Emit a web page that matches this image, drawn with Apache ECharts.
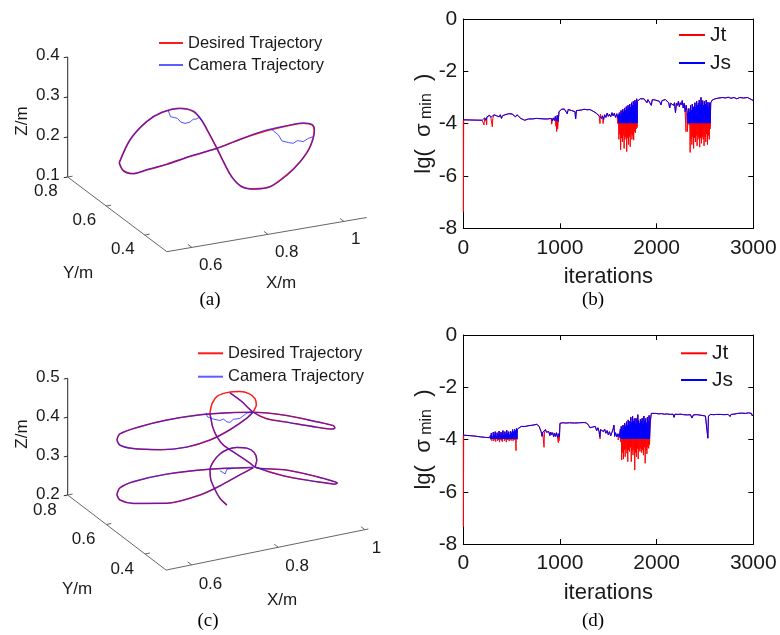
<!DOCTYPE html>
<html><head><meta charset="utf-8">
<script src="https://cdn.jsdelivr.net/npm/echarts/dist/echarts.min.js"></script>
<style>html,body{margin:0;padding:0;background:#fff}#c{width:780px;height:635px}</style>
</head><body><div id="c"></div>
<script>
const SANS = '"Liberation Sans", Arial, sans-serif';
const SERIF = '"Liberation Serif", "Times New Roman", serif';
const TXT = '#1a1a1a';

// ---------- (a) 3D trajectory data [X, Y, Z] in metres ----------
const aDesired = [
[0.543,0.55,0.225],[0.571,0.55,0.277],[0.615,0.55,0.316],[0.655,0.55,0.332],[0.703,0.55,0.335],
[0.738,0.55,0.321],[0.760,0.55,0.296],[0.777,0.55,0.264],[0.800,0.55,0.219],[0.817,0.55,0.183],
[0.839,0.55,0.142],[0.865,0.55,0.113],[0.896,0.55,0.102],[0.940,0.55,0.100],[0.984,0.55,0.123],
[1.019,0.55,0.150],[1.045,0.55,0.183],[1.056,0.55,0.223],[1.050,0.55,0.237],[1.027,0.55,0.245],
[0.984,0.55,0.245],[0.922,0.55,0.241],[0.861,0.55,0.232],[0.800,0.55,0.219],[0.729,0.55,0.210],
[0.668,0.55,0.201],[0.615,0.55,0.195],[0.580,0.55,0.192],[0.554,0.55,0.203],[0.543,0.55,0.225]];
const aCamera = [
[0.543,0.55,0.224],[0.572,0.55,0.278],[0.614,0.55,0.315],[0.656,0.55,0.333],[0.703,0.55,0.334],
[0.739,0.55,0.322],[0.760,0.55,0.295],[0.778,0.55,0.263],[0.800,0.55,0.219],[0.818,0.55,0.182],
[0.839,0.55,0.141],[0.866,0.55,0.112],[0.897,0.55,0.101],[0.940,0.55,0.101],[0.985,0.55,0.122],
[1.020,0.55,0.151],[1.046,0.55,0.184],[1.057,0.55,0.224],[1.051,0.55,0.238],[1.027,0.55,0.246],
[0.985,0.55,0.246],[0.923,0.55,0.243],[0.861,0.55,0.231],[0.800,0.55,0.219],[0.729,0.55,0.211],
[0.668,0.55,0.200],[0.615,0.55,0.196],[0.580,0.55,0.191],[0.554,0.55,0.203],[0.543,0.55,0.224]];
const aCamDev1 = [[0.672,0.55,0.334],[0.678,0.55,0.318],[0.696,0.55,0.311],[0.705,0.55,0.300],[0.716,0.55,0.295],
[0.729,0.55,0.296],[0.738,0.55,0.302],[0.745,0.55,0.301],[0.754,0.55,0.304],[0.760,0.55,0.296]];
const aCamDev2 = [[0.944,0.55,0.243],[0.962,0.55,0.226],[0.971,0.55,0.210],[0.988,0.55,0.203],[1.001,0.55,0.199],
[1.012,0.55,0.204],[1.027,0.55,0.199],[1.041,0.55,0.205],[1.052,0.55,0.207]];
const aXTicks = [0.6, 0.8, 1], aYTicks = [0.4, 0.6, 0.8], aZTicks = [0.1, 0.2, 0.3, 0.4];

// ---------- (c) 3D trajectory data ----------
const cUpperEdge = [[0.543,0.55,0.436],[0.550,0.55,0.450],[0.596,0.55,0.458],[0.658,0.55,0.461],[0.735,0.55,0.457],
[0.804,0.55,0.447],[0.857,0.55,0.436],[0.935,0.55,0.410],[1.005,0.55,0.378],[1.042,0.55,0.360],[1.047,0.55,0.353]];
const cUpperLobeLower = [[0.543,0.55,0.436],[0.550,0.55,0.421],[0.581,0.55,0.405],[0.643,0.55,0.388],[0.704,0.55,0.381],
[0.758,0.55,0.387],[0.804,0.55,0.403],[0.843,0.55,0.424],[0.857,0.55,0.436]];
const cDiagonal = [[0.804,0.55,0.498],[0.830,0.55,0.471],[0.857,0.55,0.437],[0.889,0.55,0.412],[0.935,0.55,0.393],
[1.005,0.55,0.364],[1.042,0.55,0.351],[1.047,0.55,0.353]];
const cTopLoop = [[0.758,0.55,0.456],[0.763,0.55,0.480],[0.775,0.55,0.496],[0.800,0.55,0.500],[0.827,0.55,0.496],
[0.848,0.55,0.486],[0.862,0.55,0.470],[0.865,0.55,0.453],[0.860,0.55,0.441],[0.857,0.55,0.437]];
const cDescent = [[0.758,0.55,0.454],[0.760,0.55,0.443],[0.764,0.55,0.420],[0.774,0.55,0.392],[0.789,0.55,0.367],
[0.808,0.55,0.348],[0.831,0.55,0.326],[0.851,0.55,0.306],[0.862,0.55,0.294],[0.927,0.55,0.257],[1.005,0.55,0.224],[1.047,0.55,0.208]];
const cMiddleLoop = [[0.797,0.55,0.211],[0.781,0.55,0.232],[0.770,0.55,0.256],[0.760,0.55,0.284],[0.758,0.55,0.310],
[0.766,0.55,0.330],[0.781,0.55,0.346],[0.800,0.55,0.354],[0.820,0.55,0.354],[0.843,0.55,0.347],[0.860,0.55,0.332],
[0.866,0.55,0.311],[0.862,0.55,0.294],[0.935,0.55,0.270],[1.005,0.55,0.237],[1.047,0.55,0.214],[1.052,0.55,0.210],[1.047,0.55,0.208]];
const cLowerLobeUpper = [[0.543,0.55,0.295],[0.550,0.55,0.311],[0.581,0.55,0.320],[0.658,0.55,0.322],[0.758,0.55,0.312],[0.858,0.55,0.294]];
const cLowerLobeLower = [[0.543,0.55,0.295],[0.550,0.55,0.280],[0.581,0.55,0.264],[0.658,0.55,0.247],[0.735,0.55,0.251],
[0.781,0.55,0.264],[0.827,0.55,0.282],[0.858,0.55,0.293]];
const cCamDev1 = [[0.749,0.55,0.459],[0.752,0.55,0.448],[0.766,0.55,0.439],[0.781,0.55,0.432],[0.789,0.55,0.434],
[0.797,0.55,0.425],[0.804,0.55,0.422],[0.812,0.55,0.428],[0.827,0.55,0.427],[0.843,0.55,0.437],[0.854,0.55,0.438]];
const cCamDev2 = [[0.781,0.55,0.303],[0.793,0.55,0.292],[0.797,0.55,0.303],[0.812,0.55,0.302]];
const cXTicks = [0.6, 0.8, 1], cYTicks = [0.4, 0.6, 0.8], cZTicks = [0.2, 0.3, 0.4, 0.5];

// ---------- (b) lg(sigma_min) vs iterations ----------
const bBase = [
[0,-3.85],[195,-3.87],[205,-3.82],[212,-3.92],[222,-3.78],[235,-3.88],[245,-3.74],[260,-3.8],[272,-3.68],[285,-3.76],[295,-3.7],[305,-3.8],
[318,-3.66],[330,-3.62],[345,-3.7],[358,-3.63],[370,-3.74],[382,-3.66],[395,-3.8],[405,-3.7],[418,-3.76],[432,-3.66],[450,-3.7],[470,-3.62],
[490,-3.6],[505,-3.63],[520,-3.7],[540,-3.74],[555,-3.66],[575,-3.72],[595,-3.8],[615,-3.82],[635,-3.87],[655,-3.84],[675,-3.82],[695,-3.86],
[715,-3.82],[735,-3.84],[755,-3.8],[775,-3.83],[795,-3.81],[815,-3.84],[835,-3.82],[855,-3.8],[875,-3.82],[895,-3.86],[910,-3.8],[920,-3.9],
[930,-3.78],[942,-3.88],[952,-3.72],[962,-3.9],[972,-3.68],[982,-3.92],[990,-3.55],[1000,-3.48],[1015,-3.45],[1030,-3.5],[1045,-3.44],
[1060,-3.48],[1075,-3.62],[1085,-3.46],[1100,-3.45],[1120,-3.5],[1140,-3.47],[1155,-3.54],[1162,-3.82],[1170,-3.5],[1190,-3.46],[1220,-3.48],
[1250,-3.45],[1280,-3.47],[1310,-3.46],[1340,-3.52],[1360,-3.5],[1375,-3.6],[1390,-3.58],[1405,-3.7],[1418,-3.64],[1430,-3.8],[1440,-3.7],
[1452,-3.84],[1462,-3.66],[1475,-3.76],[1488,-3.6],[1500,-3.72],[1512,-3.64],[1525,-3.74],[1538,-3.58],[1550,-3.7],[1562,-3.6],[1575,-3.76],
[1588,-3.62],[1600,-3.8],
[1800,-3.15],[1815,-3.1],[1830,-3.05],[1850,-3.07],[1870,-3.05],[1890,-3.1],[1900,-3.2],[1910,-3.08],[1930,-3.06],[1945,-3.3],[1955,-3.08],
[1970,-3.12],[1990,-3.1],[2010,-3.08],[2030,-3.15],[2045,-3.28],[2055,-3.12],[2070,-3.1],[2090,-3.08],[2110,-3.12],[2125,-3.2],[2135,-3.4],
[2145,-3.22],[2160,-3.15],[2175,-3.3],[2185,-3.2],[2195,-3.58],[2205,-3.22],[2215,-3.3],[2225,-3.15],[2235,-3.35],[2245,-3.2],[2255,-3.28],
[2265,-3.12],[2275,-3.4],[2285,-3.22],[2295,-3.55],[2305,-3.3],
[2560,-3.2],[2575,-3.1],[2590,-3.15],[2605,-3.05],[2625,-3.1],[2645,-3.02],[2665,-3.05],[2685,-3.0],[2710,-3.02],[2740,-2.99],[2770,-3.03],
[2800,-3.0],[2830,-3.05],[2860,-3.0],[2880,-2.97],[2900,-3.02],[2920,-3.05],[2940,-3.0],[2960,-3.06],[2980,-3.08],[3000,-3.12]];
const bJtDips = [[1,-7.37],[4,-3.86],[214,-4.05],[242,-4.05],[300,-4.12],[914,-4.02],[958,-4.1],[966,-4.3],[976,-4.2],[1414,-4.0],[1446,-4.0],[1598,-4.0],[2304,-4.31]];
const bBand1Start = 1605, bBand1Step = 9;
const bBand1Top = [-3.66,-3.58,-3.7,-3.5,-3.62,-3.45,-3.55,-3.4,-3.5,-3.35,-3.46,-3.3,-3.42,-3.25,-3.38,-3.2,-3.3,-3.15,-3.28,-3.1,-3.2,-3.05];
const bBand1Low = [-4.6,-4.4,-5.0,-4.55,-4.7,-4.45,-4.95,-4.6,-4.5,-5.07,-4.55,-4.8,-4.5,-4.88,-4.4,-4.6,-4.45,-4.63,-4.3,-4.35,-4.2,-4.15];
const bBand2Start = 2315, bBand2Step = 9;
const bBand2Top = [-3.5,-3.6,-3.42,-3.55,-3.3,-3.48,-3.25,-3.4,-3.35,-3.2,-3.38,-3.15,-3.3,-3.22,-3.1,-3.28,-3.0,-3.2,-3.12,-3.3,-3.15,-3.25,-3.1,-3.3,-3.18,-3.35,-3.2];
const bBand2Low = [-4.3,-4.0,-4.05,-5.1,-4.6,-4.8,-4.5,-4.95,-4.55,-4.7,-4.45,-4.85,-4.6,-4.5,-4.9,-4.55,-4.75,-4.5,-4.6,-4.85,-4.5,-4.7,-4.4,-4.8,-4.45,-4.6,-4.2];
const bJsFloor = -3.98;

// ---------- (d) ----------
const dBase = [
[0,-3.83],[60,-3.85],[120,-3.87],[180,-3.9],[230,-3.92],[272,-3.93],
[560,-3.6],[580,-3.55],[600,-3.5],[620,-3.52],[640,-3.5],[660,-3.48],[680,-3.47],[700,-3.46],[720,-3.45],[740,-3.44],[760,-3.42],[775,-3.44],
[785,-3.5],[795,-3.6],[805,-3.7],[815,-3.88],[822,-3.72],[830,-3.65],[840,-3.7],[850,-3.62],[860,-3.72],[875,-3.78],[885,-3.7],[895,-3.85],
[905,-3.72],[915,-3.82],[925,-3.74],[935,-3.9],[945,-3.76],[955,-3.88],[965,-3.74],[975,-3.92],[985,-3.78],[995,-3.9],[1000,-3.38],
[1030,-3.36],[1060,-3.37],[1100,-3.36],[1150,-3.37],[1200,-3.36],[1250,-3.35],[1276,-3.37],[1295,-3.45],[1310,-3.55],[1320,-3.48],
[1330,-3.62],[1340,-3.52],[1350,-3.58],[1365,-3.5],[1380,-3.66],[1392,-3.55],[1405,-3.7],[1412,-3.9],[1420,-3.62],[1435,-3.58],[1450,-3.7],
[1462,-3.6],[1475,-3.76],[1488,-3.66],[1500,-3.82],[1512,-3.7],[1525,-3.86],[1538,-3.72],[1550,-3.6],[1558,-3.45],[1566,-3.88],[1575,-3.74],
[1588,-3.9],[1600,-3.78],[1612,-3.92],
[1935,-3.3],[1945,-3.0],[1960,-2.99],[1990,-3.0],[2020,-3.02],[2050,-3.01],[2080,-3.03],[2110,-3.02],[2140,-3.04],[2170,-3.03],[2180,-3.15],
[2190,-3.03],[2220,-3.04],[2250,-3.03],[2280,-3.05],[2300,-3.1],[2320,-3.06],[2350,-3.05],[2365,-3.18],[2380,-3.06],[2410,-3.05],[2440,-3.06],
[2470,-3.08],[2490,-3.14],[2505,-3.1],[2520,-3.07],[2530,-3.95],[2536,-3.1],[2560,-3.04],[2590,-3.05],[2620,-3.04],[2640,-3.1],[2660,-3.04],
[2700,-3.05],[2740,-3.04],[2760,-3.12],[2770,-3.04],[2800,-3.03],[2840,-3.0],[2880,-2.99],[2920,-3.0],[2950,-2.98],[2980,-3.0],[2990,-3.1],[3000,-3.04]];
const dJtDips = [[1,-7.34],[4,-3.84],[835,-4.3],[983,-4.12],[990,-4.05],[1415,-3.98],[1602,-4.02]];
const dBand1Start = 280, dBand1Step = 10;
const dBand1Top = [-3.85,-3.75,-3.9,-3.72,-3.82,-3.7,-3.88,-3.74,-3.8,-3.68,-3.85,-3.72,-3.78,-3.66,-3.84,-3.7,-3.8,-3.65,-3.76,-3.7,-3.82,-3.68,-3.74,-3.62,-3.7,-3.6,-3.66,-3.58];
const dBand1Low = [-4.0,-4.05,-3.98,-4.06,-4.0,-4.08,-3.98,-4.05,-4.02,-4.1,-4.0,-4.04,-4.08,-3.98,-4.05,-4.0,-4.1,-4.02,-4.0,-4.06,-4.0,-4.04,-3.98,-4.05,-4.02,-4.0,-4.43,-4.0];
const dBand2Start = 1625, dBand2Step = 9;
const dBand2Top = [-3.6,-3.5,-3.65,-3.45,-3.55,-3.38,-3.5,-3.32,-3.45,-3.25,-3.4,-3.3,-3.15,-3.35,-3.1,-3.3,-3.2,-3.4,-3.19,-3.3,-3.05,-3.28,-3.38,-3.22,-3.3,-3.19,-3.4,-3.1,-3.28,-3.2,-3.36,-3.15,-3.3,-3.08];
const dBand2Low = [-4.1,-4.78,-4.5,-4.75,-4.4,-4.66,-4.35,-4.53,-4.85,-4.4,-4.46,-4.3,-4.85,-4.45,-4.6,-4.4,-5.17,-4.5,-4.66,-4.35,-4.75,-4.4,-4.46,-4.34,-4.5,-4.4,-4.6,-4.3,-4.91,-4.4,-4.55,-4.3,-4.34,-4.2];
const dJsFloor = -3.98;

// ---------- helpers ----------
function bandPairs(start, step, tops, lows, floor) {
  const js = [], jt = [];
  const n = Math.min(tops.length, lows.length);
  for (let i = 0; i < n; i++) {
    const t = start + i * step;
    js.push([t, tops[i]], [t + step / 2, floor]);
    jt.push([t, tops[i]], [t + step / 2, lows[i]]);
  }
  return {js, jt};
}
const byX = (a, b) => a[0] - b[0];
const bB1 = bandPairs(bBand1Start, bBand1Step, bBand1Top, bBand1Low, bJsFloor);
const bB2 = bandPairs(bBand2Start, bBand2Step, bBand2Top, bBand2Low, bJsFloor);
const bJs = bBase.concat(bB1.js, bB2.js).sort(byX);
const bJt = bBase.concat(bJtDips, bB1.jt, bB2.jt).sort(byX);
const dB1 = bandPairs(dBand1Start, dBand1Step, dBand1Top, dBand1Low, dJsFloor);
const dB2 = bandPairs(dBand2Start, dBand2Step, dBand2Top, dBand2Low, dJsFloor);
const dJs = dBase.concat(dB1.js, dB2.js).sort(byX);
const dJt = dBase.concat(dJtDips, dB1.jt, dB2.jt).sort(byX);

// 3D view layouts (pixel anchor + axis direction vectors)
const viewA = {o:[67.7,177], ex:[380,-65], ey:[-192.5,-145], ez:[0,-400], x0:0.534, x1:1.06, y0:0.285, y1:0.8, z0:0.1, z1:0.4,
  zLab:[-8,-2], yLab:[-10,14], xLab:[7,18]};
const viewC = {o:[67.7,495], ex:[433,-88], ey:[-193.3,-147.5], ez:[0,-389], x0:0.541, x1:1.008, y0:0.291, y1:0.8, z0:0.2, z1:0.5,
  zLab:[-8,-1], yLab:[-11,15], xLab:[7,19]};
function proj(v, p) {
  const dx = p[0] - v.x0, dy = p[1] - v.y1, dz = p[2] - v.z0;
  return [v.o[0] + dx * v.ex[0] + dy * v.ey[0] + dz * v.ez[0],
          v.o[1] + dx * v.ex[1] + dy * v.ey[1] + dz * v.ez[1]];
}
const segs = [], labels = [];
function axes3d(v, xt, yt, zt) {
  const unit = w => { const l = Math.hypot(w[0], w[1]); return [w[0] / l, w[1] / l]; };
  const ux = unit(v.ex), uy = unit(v.ey);
  const c0 = proj(v, [v.x0, v.y1, v.z0]);
  const zTop = proj(v, [v.x0, v.y1, v.z1]);
  const yEnd = proj(v, [v.x0, v.y0, v.z0]);
  const xEnd = proj(v, [v.x1, v.y0, v.z0]);
  segs.push([c0, zTop, '#262626'], [c0, yEnd, '#666'], [yEnd, xEnd, '#666']);
  zt.forEach(z => { const p = proj(v, [v.x0, v.y1, z]);
    segs.push([p, [p[0] - ux[0] * 4, p[1] - ux[1] * 4], '#262626']);
    labels.push({p:[p[0] + v.zLab[0], p[1] + v.zLab[1]], t:String(z), align:'right'}); });
  yt.forEach(y => { const p = proj(v, [v.x0, y, v.z0]);
    segs.push([p, [p[0] + ux[0] * 5, p[1] + ux[1] * 5], '#666']);
    labels.push({p:[p[0] + v.yLab[0], p[1] + v.yLab[1]], t:String(y), align:'right'}); });
  xt.forEach(x => { const p = proj(v, [x, v.y0, v.z0]);
    segs.push([p, [p[0] + uy[0] * 5, p[1] + uy[1] * 5], '#666']);
    labels.push({p:[p[0] + v.xLab[0], p[1] + v.xLab[1]], t:String(x), align:'left'}); });
}
axes3d(viewA, aXTicks, aYTicks, aZTicks);
axes3d(viewC, cXTicks, cYTicks, cZTicks);

const RED = '#ff1a1a', BLUE = '#1a1aff';
function traj(name, v, pts, color, width, opacity, smooth, z) {
  return {type:'line', name, xAxisIndex:4, yAxisIndex:4, data:pts.map(p => proj(v, p)), symbol:'none', showSymbol:false,
    smooth, lineStyle:{color, width, opacity}, itemStyle:{color}, clip:false, silent:true, z, animation:false};
}
const D = 'Desired Trajectory', C = 'Camera Trajectory';
const series = [
  {type:'custom', xAxisIndex:4, yAxisIndex:4, silent:true, z:1, data:segs.map(s => [s[0][0], s[0][1], s[1][0], s[1][1]]),
    renderItem:(params, api) => { const s = segs[params.dataIndex]; const p1 = api.coord(s[0]); const p2 = api.coord(s[1]);
      return {type:'line', shape:{x1:p1[0], y1:p1[1], x2:p2[0], y2:p2[1]}, style:{stroke:s[2], lineWidth:1}}; }},
  {type:'custom', xAxisIndex:4, yAxisIndex:4, silent:true, z:1, data:labels.map(l => l.p),
    renderItem:(params, api) => { const l = labels[params.dataIndex]; const p = api.coord(l.p);
      return {type:'text', x:p[0], y:p[1], style:{text:l.t, fontSize:17, fontFamily:SANS, fill:TXT, align:l.align, verticalAlign:'middle'}}; }},
  traj(D, viewA, aDesired, RED, 1.6, 1, 0.3, 2),
  traj(D, viewC, cUpperEdge, RED, 1.5, 1, 0.3, 2),
  traj(D, viewC, cUpperLobeLower, RED, 1.5, 1, 0.3, 2),
  traj(D, viewC, cDiagonal, RED, 1.5, 1, 0.3, 2),
  traj(D, viewC, cTopLoop, RED, 1.5, 1, 0.3, 2),
  traj(D, viewC, cDescent, RED, 1.5, 1, 0.3, 2),
  traj(D, viewC, cMiddleLoop, RED, 1.5, 1, 0.3, 2),
  traj(D, viewC, cLowerLobeUpper, RED, 1.5, 1, 0.3, 2),
  traj(D, viewC, cLowerLobeLower, RED, 1.5, 1, 0.3, 2),
  traj(C, viewA, aCamera, BLUE, 1.2, 0.7, 0.3, 3),
  traj(C, viewA, aCamDev1, BLUE, 1, 0.75, false, 3),
  traj(C, viewA, aCamDev2, BLUE, 1, 0.75, false, 3),
  traj(C, viewC, cUpperEdge, BLUE, 1.2, 0.7, 0.3, 3),
  traj(C, viewC, cUpperLobeLower, BLUE, 1.2, 0.7, 0.3, 3),
  traj(C, viewC, cDiagonal, BLUE, 1.2, 0.7, 0.3, 3),
  traj(C, viewC, cDescent, BLUE, 1.2, 0.7, 0.3, 3),
  traj(C, viewC, cMiddleLoop, BLUE, 1.2, 0.7, 0.3, 3),
  traj(C, viewC, cLowerLobeUpper, BLUE, 1.2, 0.7, 0.3, 3),
  traj(C, viewC, cLowerLobeLower, BLUE, 1.2, 0.7, 0.3, 3),
  traj(C, viewC, cCamDev1, BLUE, 1, 0.75, false, 3),
  traj(C, viewC, cCamDev2, BLUE, 1, 0.75, false, 3),
  {type:'line', name:'Jt', xAxisIndex:0, yAxisIndex:0, data:bJt, symbol:'none', showSymbol:false, lineStyle:{color:'#ff0000', width:1}, itemStyle:{color:'#ff0000'}, z:2},
  {type:'line', name:'Js', xAxisIndex:0, yAxisIndex:0, data:bJs, symbol:'none', showSymbol:false, lineStyle:{color:'#0000ff', width:1}, itemStyle:{color:'#0000ff'}, z:3},
  {type:'line', name:'Jt', xAxisIndex:2, yAxisIndex:2, data:dJt, symbol:'none', showSymbol:false, lineStyle:{color:'#ff0000', width:1}, itemStyle:{color:'#ff0000'}, z:2},
  {type:'line', name:'Js', xAxisIndex:2, yAxisIndex:2, data:dJs, symbol:'none', showSymbol:false, lineStyle:{color:'#0000ff', width:1}, itemStyle:{color:'#0000ff'}, z:3}
];

function xAx(grid, top) {
  return {gridIndex:grid, type:'value', min:0, max:3000, interval:1000, position: top ? 'top' : 'bottom',
    axisLine:{show:true, onZero:false, lineStyle:{color:'#000', width:1}},
    axisTick:{show:true, inside:true, length:5, lineStyle:{color:'#000'}},
    axisLabel:{show:!top, fontSize:21, color:TXT, fontFamily:SANS, margin:9, formatter:v => String(v)},
    splitLine:{show:false},
    name: top ? '' : 'iterations', nameLocation:'middle', nameGap:38,
    nameTextStyle:{fontSize:22, color:TXT, fontFamily:SANS}};
}
function yAx(grid, right) {
  return {gridIndex:grid, type:'value', min:-8, max:0, interval:2, position: right ? 'right' : 'left',
    axisLine:{show:true, onZero:false, lineStyle:{color:'#000', width:1}},
    axisTick:{show:true, inside:true, length:5, lineStyle:{color:'#000'}},
    axisLabel:{show:!right, fontSize:21, color:TXT, fontFamily:SANS, margin:6, formatter:v => String(v)},
    splitLine:{show:false},
    name: right ? '' : '{n|lg(  σ}{s| min}{n|  )}', nameLocation:'middle', nameRotate:90, nameGap:22,
    nameTextStyle:{fontSize:22, color:TXT, fontFamily:SANS,
      rich:{n:{fontSize:22, fontFamily:SANS, color:TXT, lineHeight:22, verticalAlign:'top'},
            s:{fontSize:16, fontFamily:SANS, color:TXT, lineHeight:16, padding:[9,0,0,0], verticalAlign:'bottom'}}}};
}
function legend(left, top, names, w, h, gap, fs) {
  return {orient:'vertical', left, top, data:names, itemWidth:w, itemHeight:h, itemGap:gap, padding:0, selectedMode:false,
    itemStyle:{opacity:0}, textStyle:{fontSize:fs, lineHeight:h, fontFamily:SANS, color:TXT}};
}
function label(text, x, y, opts) {
  return Object.assign({type:'text', x, y, silent:true,
    style:{text, fontSize:17, fontFamily:SANS, fill:TXT, align:'center', verticalAlign:'middle'}}, opts || {});
}
function panelTag(text, x, y) {
  return {type:'text', x, y, silent:true, style:{text, fontSize:19, fontFamily:SERIF, fill:'#000', align:'center', verticalAlign:'middle'}};
}
const option = {
  animation:false,
  backgroundColor:'#fff',
  grid:[
    {left:463.3, top:19, width:290, height:209.3, show:false},
    {left:463.3, top:335, width:290, height:209, show:false},
    {left:0, top:0, width:780, height:635, show:false}
  ],
  xAxis:[xAx(0,false), xAx(0,true), xAx(1,false), xAx(1,true),
    {gridIndex:2, type:'value', min:0, max:780, show:false}],
  yAxis:[yAx(0,false), yAx(0,true), yAx(1,false), yAx(1,true),
    {gridIndex:2, type:'value', min:0, max:635, inverse:true, show:false}],
  legend:[
    legend(158, 33, [D, C], 24, 20, 2, 16.5),
    legend(197, 343.3, [D, C], 25, 20, 3.4, 16.5),
    legend(678, 23, ['Jt', 'Js'], 26, 24, 4, 21),
    legend(680, 341.3, ['Jt', 'Js'], 26, 24, 2.7, 21)
  ],
  graphic:[
    label('Z/m', 22, 121, {rotation:Math.PI/2}),
    label('Y/m', 78, 273),
    label('X/m', 281, 283),
    label('Z/m', 22, 434, {rotation:Math.PI/2}),
    label('Y/m', 77, 589),
    label('X/m', 282, 600),
    panelTag('(a)', 210, 300),
    panelTag('(b)', 593, 300),
    panelTag('(c)', 208, 621),
    panelTag('(d)', 593, 621)
  ],
  series
};
const chart = echarts.init(document.getElementById('c'), null, {renderer:'canvas', width:780, height:635});
chart.setOption(option);
</script></body></html>
